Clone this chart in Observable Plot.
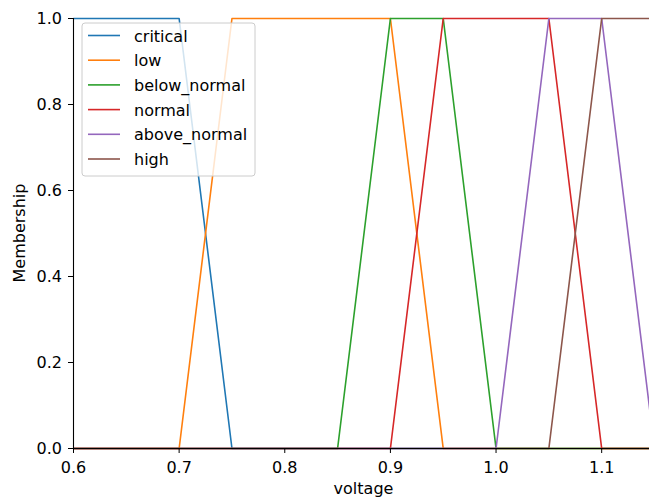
<!DOCTYPE html>
<html>
<head>
<meta charset="utf-8">
<script src="https://cdn.jsdelivr.net/npm/d3@7"></script>
<script src="https://cdn.jsdelivr.net/npm/@observablehq/plot@0.6"></script>
<style>
html,body{margin:0;padding:0;background:#fff;overflow:hidden;}
#chart{width:649px;height:497px;overflow:hidden;}
#chart svg{max-width:none !important;}
</style>
</head>
<body>
<div id="chart"></div>
<script>
// Membership functions (breakpoints)
const names = ["critical","low","below_normal","normal","above_normal","high"];
const colors = ["#1f77b4","#ff7f0e","#2ca02c","#d62728","#9467bd","#8c564b"];
const criticalX = [0.6, 0.7, 0.75, 1.15];
const criticalY = [1, 1, 0, 0];
const lowX = [0.6, 0.7, 0.75, 0.9, 0.95, 1.15];
const lowY = [0, 0, 1, 1, 0, 0];
const belowNormalX = [0.6, 0.85, 0.9, 0.95, 1.0, 1.15];
const belowNormalY = [0, 0, 1, 1, 0, 0];
const normalX = [0.6, 0.9, 0.95, 1.05, 1.1, 1.15];
const normalY = [0, 0, 1, 1, 0, 0];
const aboveNormalX = [0.6, 1.0, 1.05, 1.1, 1.15];
const aboveNormalY = [0, 0, 1, 1, 0];
const highX = [0.6, 1.05, 1.1, 1.15];
const highY = [0, 0, 1, 1];
const xTicks = [0.6, 0.7, 0.8, 0.9, 1.0, 1.1];
const yTicks = [0.0, 0.2, 0.4, 0.6, 0.8, 1.0];
const xLabel = "voltage";
const yLabel = "Membership";

const seriesX = [criticalX, lowX, belowNormalX, normalX, aboveNormalX, highX];
const seriesY = [criticalY, lowY, belowNormalY, normalY, aboveNormalY, highY];
const data = [];
names.forEach((n, i) => seriesX[i].forEach((x, j) => data.push({name: n, x, y: seriesY[i][j]})));

const font = "DejaVu Sans, sans-serif";
const fs = 16;
const W = 655, H = 497, mL = 73, mT = 18, mB = 49, mR = 1;

const chart = Plot.plot({
  width: W, height: H,
  marginLeft: mL, marginTop: mT, marginBottom: mB, marginRight: mR,
  style: {fontFamily: font, fontSize: fs + "px", color: "#000", background: "#fff", overflow: "visible", maxWidth: "none"},
  x: {domain: [0.6, 1.15], label: null},
  y: {domain: [0, 1], label: null},
  color: {domain: names, range: colors},
  marks: [
    Plot.line(data, {x: "x", y: "y", z: "name", stroke: "name", strokeWidth: 1.6}),
    Plot.ruleX([0.6], {stroke: "#000", strokeWidth: 1.1}),
    Plot.ruleY([0], {stroke: "#000", strokeWidth: 1.1}),
    Plot.axisX({ticks: xTicks, tickFormat: d3.format(".1f"), tickSize: 5, tickPadding: 8, label: null, fontSize: fs, stroke: "#000"}),
    Plot.axisY({ticks: yTicks, tickFormat: d3.format(".1f"), tickSize: 5, tickPadding: 6.5, label: null, fontSize: fs, stroke: "#000"})
  ]
});
chart.style.maxWidth = "none";
document.getElementById("chart").appendChild(chart);

const svg = d3.select(chart);
const plotCx = (mL + (W - mR)) / 2;
const plotCy = (mT + (H - mB)) / 2;
svg.append("text").attr("x", plotCx).attr("y", 494).attr("text-anchor", "middle")
  .attr("font-family", font).attr("font-size", fs).attr("fill", "#000").text(xLabel);
svg.append("text").attr("transform", `translate(25,${plotCy}) rotate(-90)`).attr("text-anchor", "middle")
  .attr("font-family", font).attr("font-size", fs).attr("fill", "#000").text(yLabel);

// legend
const lg = svg.append("g");
lg.append("rect").attr("x", 82).attr("y", 23).attr("width", 173).attr("height", 153).attr("rx", 3)
  .attr("fill", "#fff").attr("fill-opacity", 0.8).attr("stroke", "#ccc").attr("stroke-width", 1);
names.forEach((n, i) => {
  const yy = 35.5 + i * 24.7;
  lg.append("line").attr("x1", 88).attr("x2", 120).attr("y1", yy).attr("y2", yy)
    .attr("stroke", colors[i]).attr("stroke-width", 1.6);
  lg.append("text").attr("x", 134).attr("y", yy + 6).attr("text-anchor", "start")
    .attr("font-family", font).attr("font-size", fs).attr("fill", "#000").text(n);
});
</script>
</body>
</html>
